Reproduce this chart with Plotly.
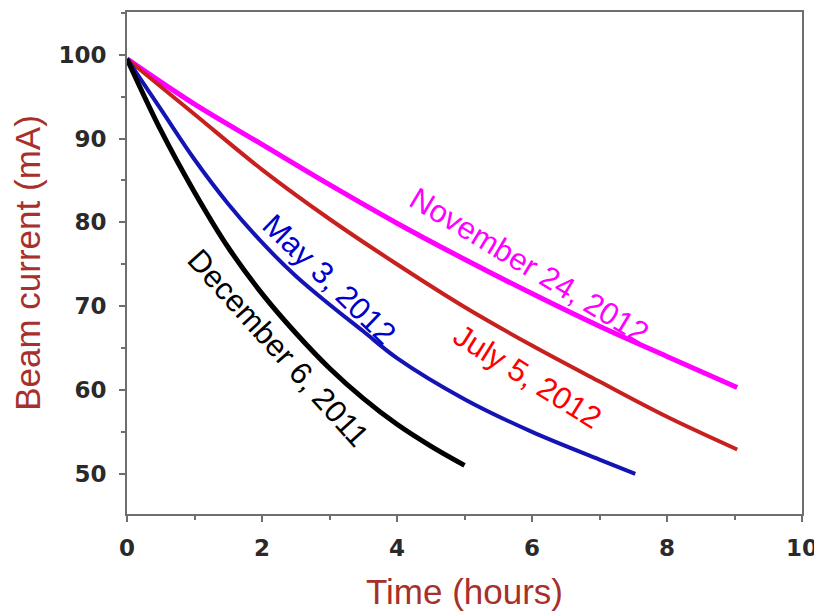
import plotly.graph_objects as go

# --- data ---
t_nov = [0, 1, 2, 3, 4, 5, 6, 7, 8, 9.04]
i_nov = [99.5, 94.1, 89.3, 84.5, 79.9, 75.6, 71.5, 67.6, 64.0, 60.3]

t_jul = [0, 1, 2, 3, 4, 5, 6, 7, 8, 9.04]
i_jul = [99.5, 92.9, 86.3, 80.4, 75.0, 69.9, 65.3, 61.0, 56.8, 52.9]

t_may = [0, 0.5, 1, 1.5, 2, 2.5, 3, 3.5, 4, 5, 6, 7, 7.53]
i_may = [99.5, 93.5, 87.5, 82.2, 77.6, 73.6, 70.2, 67.0, 63.8, 58.9, 55.0, 51.7, 50.0]

t_dec = [0, 0.5, 1, 1.5, 2, 2.5, 3, 3.5, 4, 4.5, 5]
i_dec = [99.5, 91.0, 83.6, 77.0, 71.5, 66.8, 62.6, 59.0, 55.9, 53.3, 51.0]

series = [
    ("November 24, 2012", t_nov, i_nov, "#ff00ff", 5),
    ("July 5, 2012", t_jul, i_jul, "#c8201e", 4),
    ("May 3, 2012", t_may, i_may, "#1414b4", 4),
    ("December 6, 2011", t_dec, i_dec, "#000000", 5),
]

# label positions (data coords) and angles
labels = [
    ("November 24, 2012", 5.95, 74.8, 31, "#ff00ff"),
    ("July 5, 2012", 5.93, 61.6, 32, "#ff0000"),
    ("May 3, 2012", 3.0, 73.2, 44, "#0000cc"),
    ("December 6, 2011", 2.25, 65.0, 48, "#000000"),
]

fig = go.Figure()
for name, t, i, c, w in series:
    fig.add_trace(go.Scatter(x=t, y=i, mode="lines", name=name,
                             line=dict(color=c, width=w, shape="spline")))

for text, x, y, ang, c in labels:
    fig.add_annotation(x=x, y=y, text=text, showarrow=False, textangle=ang,
                       font=dict(family="Liberation Sans, Arial", size=31, color=c))

axis_common = dict(showline=True, linecolor="#6e6e6e", linewidth=2, mirror=True,
                   ticks="outside", ticklen=6, tickwidth=2, tickcolor="#6e6e6e",
                   showgrid=False, zeroline=False, automargin=False,
                   tickfont=dict(family="DejaVu Sans", size=23, color="#2a2a2a", weight="bold"))

fig.update_xaxes(range=[0, 10], tickvals=[0, 2, 4, 6, 8, 10], ticklabelstandoff=6,
                 minor=dict(dtick=1, ticks="outside", ticklen=4, tickwidth=2, tickcolor="#6e6e6e"),
                 title=dict(text="Time (hours)", standoff=20,
                            font=dict(family="Liberation Sans, Arial", size=35, color="#a8302c")),
                 **axis_common)
fig.update_yaxes(range=[45.2, 105.1], tickvals=[50, 60, 70, 80, 90, 100], ticklabelstandoff=8,
                 minor=dict(dtick=5, ticks="outside", ticklen=4, tickwidth=2, tickcolor="#6e6e6e"),
                 title=dict(text="Beam current (mA)", standoff=10,
                            font=dict(family="Liberation Sans, Arial", size=35, color="#a8302c")),
                 **axis_common)

# the page adds an 8px body margin; the figure is sized to fit the window and
# margins are chosen to land the frame at 127..802 x 12..514
fig.update_layout(width=814, height=606, showlegend=False,
                  margin=dict(l=119, r=20, t=4, b=100),
                  plot_bgcolor="white", paper_bgcolor="white")

fig.write_html("out.html")
